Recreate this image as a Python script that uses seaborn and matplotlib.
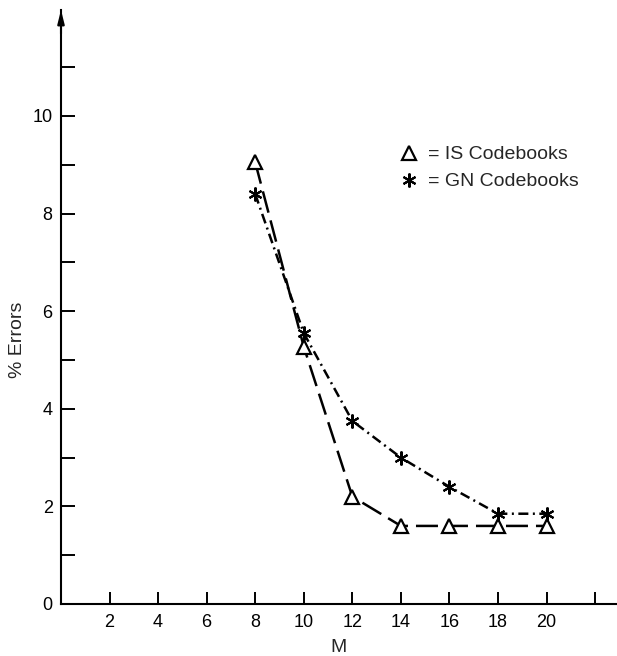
import matplotlib
matplotlib.use("Agg")
import matplotlib.pyplot as plt
from matplotlib.lines import Line2D
from matplotlib.ticker import FixedLocator
import seaborn as sns
import pandas as pd

# Recognition error rate versus codebook size M
m_values = [8, 10, 12, 14, 16, 18, 20]
is_errors = [9.05, 5.27, 2.2, 1.6, 1.6, 1.6, 1.6]
gn_errors = [8.4, 5.55, 3.75, 3.0, 2.4, 1.85, 1.85]
series_labels = ["= IS Codebooks", "= GN Codebooks"]
x_ticks = [2, 4, 6, 8, 10, 12, 14, 16, 18, 20, 22]
x_tick_labels = ["2", "4", "6", "8", "10", "12", "14", "16", "18", "20", ""]
y_major = [0, 2, 4, 6, 8, 10]
y_minor = [1, 3, 5, 7, 9, 11]

sns.set_style("ticks")
plt.rcParams["font.family"] = ["Liberation Sans", "DejaVu Sans"]

df_is = pd.DataFrame({"M": m_values, "err": is_errors})
df_gn = pd.DataFrame({"M": m_values, "err": gn_errors})

W, H = 617, 656
fig = plt.figure(figsize=(W / 100, H / 100), dpi=100)
ax_left, ax_bottom, ax_top = 61, 604, 10
ax = fig.add_axes([ax_left / W, 1 - ax_bottom / H, 1 - ax_left / W, (ax_bottom - ax_top) / H])

lw = 1.8
sns.lineplot(data=df_is, x="M", y="err", ax=ax, color="black", linewidth=lw,
             linestyle=(0, (8.8, 3.2)), marker="^", markersize=10,
             markerfacecolor="white", markeredgecolor="black", markeredgewidth=1.6)
sns.lineplot(data=df_gn, x="M", y="err", ax=ax, color="black", linewidth=lw,
             linestyle=(0, (4.0, 1.8, 0.8, 1.8)), marker=(6, 2, 0), markersize=10,
             markerfacecolor="black", markeredgecolor="black", markeredgewidth=1.5)

ax.set_xlim(0, (W - ax_left) / 24.28)
ax.set_ylim(0, (ax_bottom - ax_top) / 48.8)

sns.despine(ax=ax, top=True, right=True)
for side in ("left", "bottom"):
    ax.spines[side].set_linewidth(1.5)
    ax.spines[side].set_color("black")

ax.xaxis.set_major_locator(FixedLocator(x_ticks))
ax.set_xticklabels(x_tick_labels)
ax.yaxis.set_major_locator(FixedLocator(y_major))
ax.yaxis.set_minor_locator(FixedLocator(y_minor))
ax.tick_params(axis="x", direction="in", length=8.6, width=1.4, pad=7,
               labelsize=13, colors="black")
ax.tick_params(axis="y", which="both", direction="in", length=10, width=1.4,
               pad=6, labelsize=13, colors="black")

ax.set_xlabel("M", fontsize=14, labelpad=6)
ax.set_ylabel("% Errors", fontsize=14)
ax.yaxis.set_label_coords((26 - ax_left) / (W - ax_left), (ax_bottom - 340) / (ax_bottom - ax_top))

# arrowhead at the top of the vertical axis
ax.annotate("", xy=(0, 1.0), xytext=(0, 0.96), xycoords="axes fraction",
            arrowprops=dict(arrowstyle="-|>,head_length=0.8,head_width=0.2",
                            color="black", lw=1.5, shrinkA=0, shrinkB=0),
            annotation_clip=False)

handles = [
    Line2D([], [], linestyle="none", marker="^", markersize=10, markerfacecolor="white",
           markeredgecolor="black", markeredgewidth=1.6),
    Line2D([], [], linestyle="none", marker=(6, 2, 0), markersize=10,
           markeredgecolor="black", markeredgewidth=1.5),
]
fig.legend(handles, series_labels, loc="upper left",
           bbox_to_anchor=(399.3 / W, 1 - 145.7 / H), frameon=False,
           fontsize=14, handlelength=1.0, handletextpad=0.5, labelspacing=0.49,
           borderpad=0, borderaxespad=0)

fig.savefig("out.png", dpi=100)
